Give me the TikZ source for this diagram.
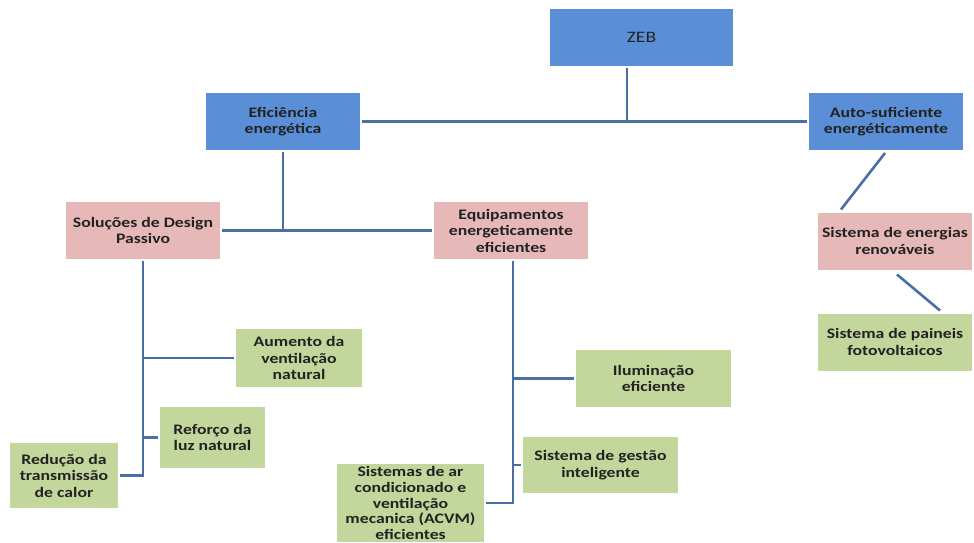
\documentclass[tikz,border=0pt]{standalone}
\usepackage{fontspec}
\setmainfont{Carlito}[FakeStretch=1.22]
\usetikzlibrary{calc}
\definecolor{bluebox}{HTML}{5A8ED6}
\definecolor{pinkbox}{HTML}{E6B9B8}
\definecolor{greenbox}{HTML}{C3D69B}
\definecolor{linkc}{HTML}{4A6FA5}
\definecolor{txt}{HTML}{222222}
\tikzset{
  x=1pt, y=-1pt,
  box/.style={inner xsep=1pt, inner ysep=1pt, outer sep=2pt, align=center, text=txt,
    font=\fontsize{14.5}{16.5}\selectfont\bfseries},
  bluen/.style={box, fill=bluebox},
  pinkn/.style={box, fill=pinkbox},
  greenn/.style={box, fill=greenbox},
  link/.style={draw=linkc, line width=2.6pt},
}
\begin{document}
\begin{tikzpicture}
\useasboundingbox (0,0) rectangle (974,542);
\fill[white] (0,0) rectangle (974,542);
\node[bluen, minimum width=183, minimum height=57, font=\fontsize{16}{18}\selectfont] (zeb) at (641.5,37.5) {ZEB};
\node[bluen, minimum width=154, minimum height=57] (ef) at (283,121.5) {Eficiência\\energética};
\node[bluen, minimum width=154, minimum height=57] (auto) at (886,121.5) {Auto-suficiente\\energéticamente};
\node[pinkn, minimum width=154, minimum height=57] (sol) at (143,230.5) {Soluções de Design\\Passivo};
\node[pinkn, minimum width=154, minimum height=57] (equip) at (511,230.5) {Equipamentos\\energeticamente\\eficientes};
\node[pinkn, minimum width=154, minimum height=57] (ener) at (895,241) {Sistema de energias\\renováveis};
\node[greenn, minimum width=154, minimum height=57] (pain) at (895,342) {Sistema de paineis\\fotovoltaicos};
\node[greenn, minimum width=126, minimum height=58] (aum) at (299,358) {Aumento da\\ventilação\\natural};
\node[greenn, minimum width=105, minimum height=61] (ref) at (212.5,437.5) {Reforço da\\luz natural};
\node[greenn, minimum width=108, minimum height=65] (red) at (64,475.5) {Redução da\\transmissão\\de calor};
\node[greenn, minimum width=155, minimum height=57] (ilum) at (653.5,378.5) {Iluminação\\eficiente};
\node[greenn, minimum width=155, minimum height=56] (gest) at (600.5,465) {Sistema de gestão\\inteligente};
\node[greenn, minimum width=147, minimum height=78, inner ysep=0pt, font=\fontsize{14.5}{15.8}\selectfont\bfseries] (acvm) at (410.5,503) {Sistemas de ar\\condicionado e\\ventilação\\mecanica (ACVM)\\eficientes};
\coordinate (j1) at (627,121.5);
\draw[link] (zeb.south -| j1) -- (j1);
\draw[link] (ef.east) -- (auto.west);
\draw[link] (ef.south) -- (ef.south |- sol.east);
\draw[link] (sol.east) -- (equip.west);
\draw[link] ($(auto.south)+(-1,1)$) -- ($(ener.north)+(-54,-1)$);
\draw[link] ($(ener.south)+(2,3)$) -- ($(pain.north)+(45,-1)$);
\draw[link] (sol.south) -- (sol.south |- red.east) -- (red.east);
\draw[link] (aum.west) -- (aum.west -| sol.south);
\draw[link] (ref.west) -- (ref.west -| sol.south);
\draw[link] ($(equip.south)+(2,0)$) -- ($(equip.south |- acvm.east)+(2,0)$) -- (acvm.east);
\draw[link] (ilum.west) -- ($(ilum.west -| equip.south)+(2,0)$);
\draw[link] (gest.west) -- ($(gest.west -| equip.south)+(2,0)$);
\end{tikzpicture}
\end{document}
